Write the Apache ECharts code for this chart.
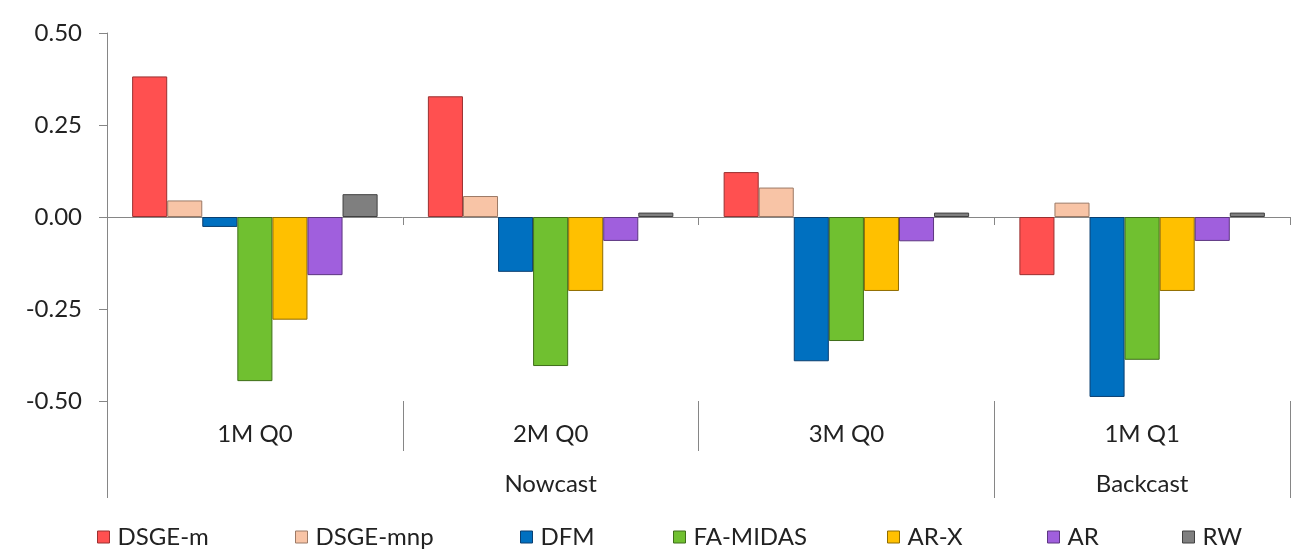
<!DOCTYPE html>
<html>
<head>
<meta charset="utf-8">
<script src="https://cdn.jsdelivr.net/npm/echarts@6/dist/echarts.min.js"></script>
<style>
html,body{margin:0;padding:0;background:#fff;}
#chart{width:1294px;height:556px;}
</style>
</head>
<body>
<div id="chart"></div>
<script>
const categories = ['1M Q0', '2M Q0', '3M Q0', '1M Q1'];
const groupLabels = ['', 'Nowcast', '', 'Backcast'];
const yTicks = [-0.5, -0.25, 0, 0.25, 0.5];

const seriesNames = ['DSGE-m', 'DSGE-mnp', 'DFM', 'FA-MIDAS', 'AR-X', 'AR', 'RW'];
const dsgeM   = [0.382, 0.328, 0.122, -0.158];
const dsgeMnp = [0.045, 0.057, 0.080, 0.039];
const dfm     = [-0.027, -0.149, -0.392, -0.489];
const faMidas = [-0.446, -0.405, -0.337, -0.388];
const arX     = [-0.279, -0.201, -0.201, -0.201];
const ar      = [-0.158, -0.065, -0.066, -0.065];
const rw      = [0.062, 0.012, 0.012, 0.012];

const seriesValues = [dsgeM, dsgeMnp, dfm, faMidas, arX, ar, rw];
const colors = ['#FF5050', '#F8C4A6', '#0070C0', '#70C030', '#FFC000', '#A05FDD', '#7F7F7F'];
const borders = ['#9a3030', '#9c7a66', '#0a3f70', '#3f6e1a', '#8f6c00', '#5c3680', '#404040'];

const FONT = 'Lato';
const TXT = '#222222';
const AXC = '#868686';

const legendLefts = [97, 295, 520, 673, 887, 1047, 1182];

const chart = echarts.init(document.getElementById('chart'));
chart.setOption({
  animation: false,
  textStyle: { fontFamily: FONT },
  grid: { left: 107, right: 4, top: 33, bottom: 155, containLabel: false },
  legend: seriesNames.map((n, i) => ({
    data: [n],
    left: legendLefts[i],
    top: 525,
    padding: 0,
    icon: 'rect',
    itemWidth: 12,
    itemHeight: 12,
    itemGap: 0,
    textStyle: { fontFamily: FONT, fontSize: 24, color: TXT, padding: [0, 0, 0, 3] },
    itemStyle: { borderWidth: 1 }
  })),
  xAxis: [
    {
      type: 'category',
      data: categories,
      axisLine: { onZero: true, lineStyle: { color: AXC, width: 1 } },
      axisTick: { show: true, length: 8, lineStyle: { color: AXC } },
      axisLabel: { show: false },
      splitLine: { show: false }
    },
    {
      type: 'category',
      data: categories,
      position: 'bottom',
      axisLine: { show: false, onZero: false },
      axisTick: { show: true, length: 50, lineStyle: { color: AXC } },
      axisLabel: { show: true, interval: 0, margin: 21, fontFamily: FONT, fontSize: 24, color: TXT },
      splitLine: { show: false }
    },
    {
      type: 'category',
      data: groupLabels,
      position: 'bottom',
      offset: 50,
      axisLine: { show: false, onZero: false },
      axisTick: {
        show: true, length: 47, lineStyle: { color: AXC },
        interval: function (idx) { return idx === 0 || idx === 3; }
      },
      axisLabel: { show: true, interval: 0, margin: 21, fontFamily: FONT, fontSize: 24, color: TXT },
      splitLine: { show: false }
    }
  ],
  yAxis: {
    type: 'value',
    min: yTicks[0],
    max: yTicks[yTicks.length - 1],
    interval: 0.25,
    axisLine: { show: true, lineStyle: { color: AXC, width: 1 } },
    axisTick: { show: true, length: 8, lineStyle: { color: AXC } },
    splitLine: { show: false },
    axisLabel: {
      margin: 25, fontFamily: FONT, fontSize: 24, color: TXT,
      formatter: v => v.toFixed(2)
    }
  },
  series: seriesNames.map((n, i) => ({
    name: n,
    type: 'bar',
    xAxisIndex: 0,
    data: seriesValues[i],
    barGap: '0%',
    barCategoryGap: '17%',
    itemStyle: { color: colors[i], borderColor: borders[i], borderWidth: 1 }
  }))
});
</script>
</body>
</html>
